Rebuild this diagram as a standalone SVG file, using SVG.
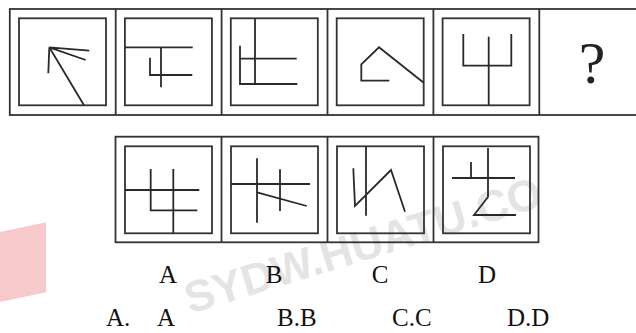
<svg xmlns="http://www.w3.org/2000/svg" width="636" height="333" viewBox="0 0 636 333">
<style>
.frame{fill:none;stroke:#333;stroke-width:1.8}
.sq{fill:none;stroke:#333;stroke-width:1.8}
.ln{fill:none;stroke:#2a2a2a;stroke-width:1.8;stroke-linecap:butt;stroke-linejoin:miter}
.lbl{font-family:"Liberation Serif","Times New Roman",serif;font-size:25px;fill:#111}
.wm{font-family:"Liberation Sans",Arial,sans-serif;font-weight:bold;font-size:44px;fill:#000;opacity:0.1}
</style>
<g id="watermark">
<rect x="0" y="232" width="46" height="70" fill="#e05050" opacity="0.3" transform="skewY(-12)"/>
<text class="wm" x="190" y="314" transform="rotate(-17 190 314)">SYDW.HUATU.CO</text>
</g>
<g id="question-row">
<rect class="frame" x="9.8" y="9" width="640" height="106"/>
<line class="frame" x1="115.7" y1="9" x2="115.7" y2="115"/>
<line class="frame" x1="221.6" y1="9" x2="221.6" y2="115"/>
<line class="frame" x1="327.5" y1="9" x2="327.5" y2="115"/>
<line class="frame" x1="433.4" y1="9" x2="433.4" y2="115"/>
<line class="frame" x1="539.3" y1="9" x2="539.3" y2="115"/>
</g>
<g id="fig1">
<rect class="sq" x="19" y="18.3" width="87" height="87"/>
<path class="ln" d="M49.3 47.3 L84 105.3 M49.3 47.3 L48.3 73.3 M49.3 47.3 L89.3 50.7 M49.3 47.3 L85.7 60"/>
</g>
<g id="fig2">
<rect class="sq" x="124.9" y="18.3" width="87" height="87"/>
<path class="ln" d="M124.9 47.3 H192.7 M161 47.3 V87.3 M150 57.7 V75 H192.3"/>
</g>
<g id="fig3">
<rect class="sq" x="230.8" y="18.3" width="87" height="87"/>
<path class="ln" d="M255 18.3 V84 M240 45.7 V84 H297.3 M240 58.7 H296.7"/>
</g>
<g id="fig4">
<rect class="sq" x="336.7" y="18.3" width="87" height="87"/>
<path class="ln" d="M389.3 80.7 H361.3 V64.3 L379 47.3 L423.7 82.7"/>
</g>
<g id="fig5">
<rect class="sq" x="442.6" y="18.3" width="87" height="87"/>
<path class="ln" d="M463.3 34 V65.7 H511.3 V34 M488.7 36.7 V105.3"/>
</g>
<g id="fig6">
<text x="592" y="83" text-anchor="middle" font-family="Liberation Serif, serif" font-size="60" fill="#222">?</text>
</g>
<g id="options-row">
<rect class="frame" x="115.5" y="136.7" width="423" height="105.6"/>
<line class="frame" x1="221.5" y1="136.7" x2="221.5" y2="242.3"/>
<line class="frame" x1="327.5" y1="136.7" x2="327.5" y2="242.3"/>
<line class="frame" x1="433.5" y1="136.7" x2="433.5" y2="242.3"/>
</g>
<g id="optA">
<rect class="sq" x="125" y="146.3" width="87" height="87"/>
<path class="ln" d="M125 190 H199.3 M150.7 169 V210.3 H197.3 M173.3 169 V233.3"/>
</g>
<g id="optB">
<rect class="sq" x="231" y="146.3" width="87" height="87"/>
<path class="ln" d="M231 184 H310 M257 158.3 V222.7 M280 169.3 V211 M257 192.3 L306.7 206"/>
</g>
<g id="optC">
<rect class="sq" x="337" y="146.3" width="87" height="87"/>
<path class="ln" d="M366 146.3 V215.7 M353.3 168.3 L355 206 L391 170 L405 211.7"/>
</g>
<g id="optD">
<rect class="sq" x="443" y="146.3" width="87" height="87"/>
<path class="ln" d="M488 148 V197 L474 215 H516 M452 178 H515 M471 162 V178"/>
</g>
<g id="labels">
<text class="lbl" x="168" y="283" text-anchor="middle">A</text>
<text class="lbl" x="274" y="283" text-anchor="middle">B</text>
<text class="lbl" x="380" y="283" text-anchor="middle">C</text>
<text class="lbl" x="487" y="283" text-anchor="middle">D</text>
<text class="lbl" x="106" y="326">A.</text>
<text class="lbl" x="157" y="326">A</text>
<text class="lbl" x="277" y="326">B.B</text>
<text class="lbl" x="392" y="326">C.C</text>
<text class="lbl" x="507" y="326">D.D</text>
</g>
</svg>
